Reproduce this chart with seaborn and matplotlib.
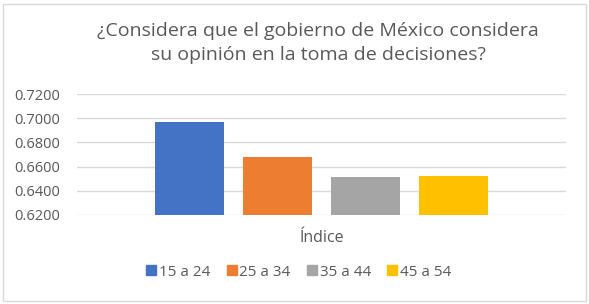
import pandas as pd
import matplotlib.pyplot as plt
import seaborn as sns

# Data
grupos = ["15 a 24", "25 a 34", "35 a 44", "45 a 54"]
indice = [0.6967, 0.6681, 0.6517, 0.6525]
categoria = ["Índice"] * len(grupos)
colores = ["#4472C4", "#ED7D31", "#A5A5A5", "#FFC000"]
yticks = [0.62, 0.64, 0.66, 0.68, 0.70, 0.72]

df = pd.DataFrame({"Categoria": categoria, "Grupo": grupos, "Indice": indice})

sns.set_theme(style="white")
plt.rcParams["font.family"] = ["Open Sans", "DejaVu Sans"]

fig = plt.figure(figsize=(5.89, 3.04), dpi=100)
ax = fig.add_axes([77 / 589, 1 - 215 / 304, 489 / 589, (215 - 94) / 304])

sns.barplot(data=df, x="Categoria", y="Indice", hue="Grupo", palette=colores,
            width=0.72, gap=0.216, saturation=1, legend=False, linewidth=0, ax=ax)

ax.set_ylim(0.62, 0.72)
ax.set_xlim(-0.5, 0.5)
ax.set_yticks(yticks)
ax.set_yticklabels([f"{v:.4f}" for v in yticks], color="#595959", fontsize=10.5)
ax.tick_params(axis="x", colors="#595959", labelsize=11.5, length=0, pad=11)
ax.tick_params(axis="y", length=0, pad=12)
ax.yaxis.grid(True, color="#D9D9D9", linewidth=1)
ax.set_axisbelow(True)
for s in ax.spines.values():
    s.set_visible(False)
ax.set_xlabel("")
ax.set_ylabel("")

# Title
fig.text(0.54, 1 - 43 / 304, "¿Considera que el gobierno de México considera\nsu opinión en la toma de decisiones?",
         ha="center", va="center", fontsize=14, color="#595959", linespacing=1.4)

# Legend
handles = [plt.Line2D([], [], marker="s", linestyle="", color=c, markersize=7) for c in colores]
fig.legend(handles, grupos, loc="center", bbox_to_anchor=(0.505, 1 - 272 / 304), ncol=4,
           frameon=False, fontsize=11, labelcolor="#595959", handletextpad=0.0,
           columnspacing=0.9, handlelength=1)

# Outer border
fig.patches.append(plt.Rectangle((3 / 589, 3 / 304), 583 / 589, 297 / 304, transform=fig.transFigure,
                                 fill=False, edgecolor="#D9D9D9", linewidth=1))

fig.savefig("out.png", dpi=100)
